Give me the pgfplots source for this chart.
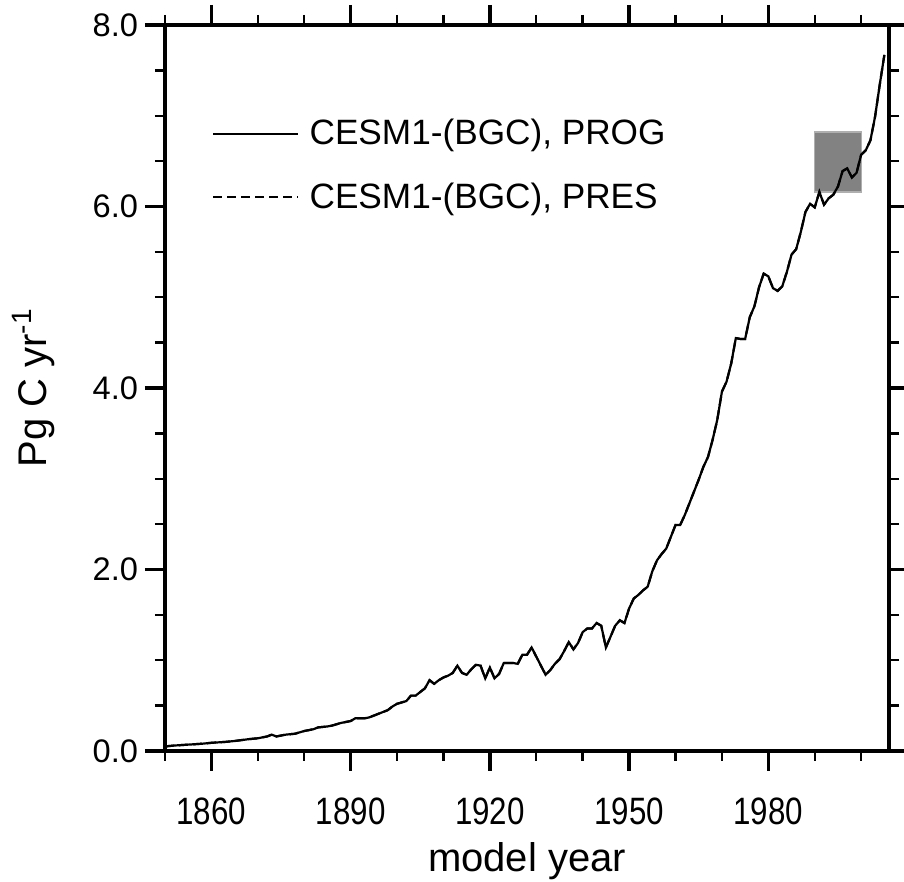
\documentclass[border=0pt]{standalone}
\usepackage{fontspec}
\setmainfont{Liberation Sans}
\usepackage{graphicx}
\usepackage{pgfplots}
\usepackage{pgfplotstable}
\pgfplotsset{compat=1.18}
\usetikzlibrary{calc}
\definecolor{boxgray}{RGB}{130,130,130}
\definecolor{boxedge}{RGB}{175,175,175}
\newcommand{\xl}[1]{\scalebox{0.96}[1.17]{#1}}

\pgfplotstableread{
year val
1850 0.05
1852 0.06
1855 0.07
1858 0.08
1860 0.09
1863 0.10
1865 0.11
1868 0.13
1870 0.14
1872 0.16
1873 0.18
1874 0.16
1875 0.17
1876 0.18
1878 0.19
1880 0.22
1882 0.24
1883 0.26
1885 0.27
1886 0.28
1888 0.31
1889 0.32
1890 0.33
1891 0.36
1893 0.36
1894 0.37
1896 0.41
1898 0.45
1899 0.49
1900 0.52
1902 0.55
1903 0.61
1904 0.61
1905 0.65
1906 0.69
1907 0.78
1908 0.74
1909 0.78
1910 0.81
1911 0.83
1912 0.86
1913 0.94
1914 0.86
1915 0.84
1916 0.90
1917 0.95
1918 0.94
1919 0.80
1920 0.92
1921 0.80
1922 0.85
1923 0.97
1924 0.97
1925 0.97
1926 0.96
1927 1.06
1928 1.06
1929 1.14
1930 1.04
1931 0.94
1932 0.84
1933 0.89
1934 0.96
1935 1.01
1936 1.10
1937 1.20
1938 1.12
1939 1.19
1940 1.31
1941 1.35
1942 1.35
1943 1.41
1944 1.38
1945 1.14
1946 1.26
1947 1.38
1948 1.44
1949 1.41
1950 1.57
1951 1.68
1952 1.72
1953 1.77
1954 1.81
1955 1.98
1956 2.10
1957 2.17
1958 2.23
1959 2.36
1960 2.49
1961 2.49
1962 2.60
1963 2.73
1964 2.86
1965 2.99
1966 3.13
1967 3.24
1968 3.43
1969 3.65
1970 3.96
1971 4.07
1972 4.27
1973 4.55
1974 4.54
1975 4.54
1976 4.78
1977 4.90
1978 5.11
1979 5.26
1980 5.23
1981 5.10
1982 5.07
1983 5.12
1984 5.28
1985 5.47
1986 5.53
1987 5.72
1988 5.94
1989 6.03
1990 5.99
1991 6.16
1992 6.02
1993 6.09
1994 6.13
1995 6.22
1996 6.39
1997 6.42
1998 6.32
1999 6.37
2000 6.57
2001 6.62
2002 6.73
2003 6.99
2004 7.34
2005 7.67
}\emissions

\pgfplotstableread{
x y
1990 6.16
2000 6.16
2000 6.82
1990 6.82
}\obsbox

\begin{document}
\begin{tikzpicture}
\begin{axis}[
  scale only axis, width=362bp, height=363bp,
  xmin=1850, xmax=2006, ymin=0, ymax=8,
  axis line style={line width=2bp},
  xtick={1860,1890,1920,1950,1980},
  xticklabels={\xl{1860},\xl{1890},\xl{1920},\xl{1950},\xl{1980}},
  minor xtick={1850,1870,1880,1900,1910,1930,1940,1960,1970,1990,2000},
  ytick={0,2,4,6,8},
  yticklabels={0.0,2.0,4.0,6.0,8.0},
  minor ytick={0.5,1,1.5,2.5,3,3.5,4.5,5,5.5,6.5,7,7.5},
  tick align=outside,
  major tick length=10bp, minor tick length=5bp,
  every major tick/.append style={line width=1.7bp, black},
  every minor tick/.append style={line width=1.2bp, black},
  ticklabel style={font=\fontsize{16.3bp}{16.3bp}\selectfont},
  xticklabel shift=10bp,
  xlabel={model year},
  ylabel={Pg C yr\textsuperscript{-1}},
  label style={font=\fontsize{20bp}{24bp}\selectfont},
  xlabel style={at={(axis description cs:0.5,-0.166)}, anchor=base},
  ylabel style={at={(axis description cs:-0.182,0.5)}, anchor=center},
  legend style={at={(axis description cs:0,1)}, anchor=north west,
    xshift=23.5bp, yshift=-47.0bp, draw=none, fill=none, inner sep=0pt,
    row sep=17.5bp, font=\fontsize{17.6bp}{17.6bp}\selectfont,
    nodes={inner sep=0pt}},
  legend cell align=left,
  legend image code/.code={\draw[#1] (0bp,0bp) -- (42.5bp,0bp);},
]
\coordinate (ll) at (rel axis cs:0,0);
\coordinate (ur) at (rel axis cs:1,1);
\addplot[fill=boxgray, draw=boxedge, line width=0.6bp, forget plot] table[x=x,y=y] {\obsbox} -- cycle;
\addplot[black, line width=1.1bp] table[x=year,y=val] {\emissions};
\addlegendentry{\hspace{5bp}CESM1-(BGC), PROG}
\addplot[black, line width=1.1bp, dash pattern=on 4.5bp off 2.5bp] table[x=year,y=val] {\emissions};
\addlegendentry{\hspace{5bp}CESM1-(BGC), PRES}
\end{axis}
\pgfresetboundingbox
\path ($(ll)+(-82.5bp,-65.5bp)$) rectangle ($(ur)+(7.5bp,12.5bp)$);
\end{tikzpicture}
\end{document}
